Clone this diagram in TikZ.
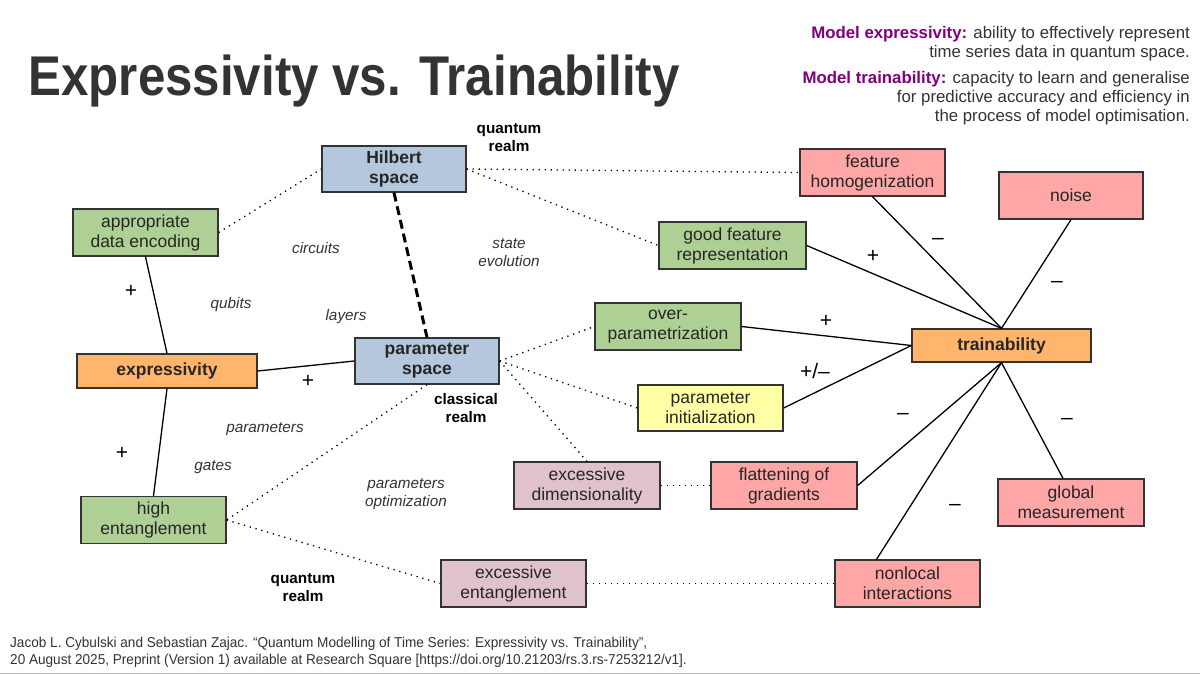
\documentclass[tikz,border=0pt]{standalone}
\usepackage{fontspec}
\setmainfont{Liberation Sans}
\newfontfamily\titlefont[FakeStretch=0.88]{Liberation Sans}
\newfontfamily\notefont[FakeStretch=0.95]{Liberation Sans}

\definecolor{spaceblue}{HTML}{B4C7DC}
\definecolor{goodgreen}{HTML}{AFD095}
\definecolor{mainorange}{HTML}{FFB66C}
\definecolor{badred}{HTML}{FFA6A6}
\definecolor{mixyellow}{HTML}{FFFFA6}
\definecolor{excmauve}{HTML}{E0C2CD}
\definecolor{inkgray}{HTML}{333333}
\definecolor{defpurple}{HTML}{800080}

\begin{document}
\begin{tikzpicture}[x=1pt,y=-1pt,
  box/.style={draw=inkgray,line width=1.3pt,minimum width=145pt,minimum height=47pt,
    inner sep=0pt,align=center,text=black!85,font=\fontsize{17.5}{20}\selectfont},
  keybox/.style={box,minimum width=180pt,minimum height=34pt,fill=mainorange,
    font=\fontsize{17.5}{20}\selectfont\bfseries},
  spacebox/.style={box,minimum width=144pt,minimum height=46pt,fill=spaceblue,
    font=\fontsize{17.5}{20}\selectfont\bfseries},
  link/.style={black,line width=1.3pt},
  weak/.style={black,line width=1.3pt,dash pattern=on 1.3pt off 4.7pt},
  hint/.style={text=inkgray,align=center,font=\fontsize{15.3}{18}\selectfont\itshape},
  realm/.style={text=black,align=center,font=\fontsize{15.3}{18}\selectfont\bfseries},
  sign/.style={text=black,font=\fontsize{21}{24}\selectfont}]
\useasboundingbox (0,0) rectangle (1200,675);
\fill[white] (0,0) rectangle (1200,675);
\draw[black!25,line width=1pt] (0,673) -- (1200,673);

% title and definitions
\node[anchor=base west,text=inkgray,font=\titlefont\fontsize{56}{60}\selectfont\bfseries]
  (title) at (25,95) {Expressivity vs. Trainability};
\node[anchor=north east,align=right,text=inkgray,inner sep=0pt,font=\fontsize{16.8}{19}\selectfont]
  (defexpr) at (1190,26)
  {\textcolor{defpurple}{\bfseries Model expressivity:} ability to effectively represent\\
   time series data in quantum space.};
\node[anchor=north east,align=right,text=inkgray,inner sep=0pt,font=\fontsize{16.8}{19}\selectfont]
  (deftrain) at (1190,71)
  {\textcolor{defpurple}{\bfseries Model trainability:} capacity to learn and generalise\\
   for predictive accuracy and efficiency in \\
   the process of model optimisation.};

% boxes
\node[spacebox] (hilbert) at (394,169) {Hilbert\\space};
\node[spacebox] (param) at (427,361) {parameter\\space};
\node[keybox] (expr) at (167,371) {expressivity};
\node[keybox,minimum width=179pt,minimum height=33pt] (train) at (1001.5,345.5) {trainability};
\node[box,fill=goodgreen] (encoding) at (145.5,232.5) {appropriate\\data encoding};
\node[box,fill=goodgreen] (highent) at (153.5,520) {high\\entanglement};
\node[box,fill=goodgreen,minimum width=147pt] (goodfeat) at (732.5,245.5) {good feature\\representation};
\node[box,fill=goodgreen,minimum width=146pt] (overparam) at (668,326.5) {over-\\parametrization};
\node[box,fill=mixyellow,minimum height=46pt] (paraminit) at (710.5,408) {parameter\\initialization};
\node[box,fill=badred] (homog) at (872.5,172.5) {feature\\homogenization};
\node[box,fill=badred,minimum width=144pt] (noise) at (1071,195.5) {noise};
\node[box,fill=badred,minimum width=146pt] (flatten) at (784,485.5) {flattening of\\gradients};
\node[box,fill=badred,minimum width=146pt] (global) at (1071,502.5) {global\\measurement};
\node[box,fill=badred] (nonlocal) at (907.5,583.5) {nonlocal\\interactions};
\node[box,fill=excmauve,minimum width=146pt] (excdim) at (587,485.5) {excessive\\dimensionality};
\node[box,fill=excmauve] (excent) at (513.5,583.5) {excessive\\entanglement};

% solid links
\draw[link] (encoding.south) -- (expr.north);
\draw[link] (expr.east) -- (param.west);
\draw[link] (expr.south) -- (highent.north);
\draw[black,line width=3pt,dash pattern=on 9pt off 5pt] (hilbert.south) -- (param.north);
\draw[link] (goodfeat.east) -- (train.north);
\draw[link] (homog.south) -- (train.north);
\draw[link] (noise.south) -- (train.north);
\draw[link] (overparam.east) -- (train.west);
\draw[link] (paraminit.east) -- (train.west);
\draw[link] (train.south) -- (flatten.east);
\draw[link] (train.south) -- ([xshift=-31pt]nonlocal.north);
\draw[link] (train.south) -- ([xshift=-8pt]global.north);

% dotted links
\draw[weak] (encoding.east) -- (hilbert.west);
\draw[weak] (hilbert.east) -- (homog.west);
\draw[weak] (hilbert.east) -- (goodfeat.west);
\draw[weak] (param.east) -- (overparam.west);
\draw[weak] (param.east) -- (paraminit.west);
\draw[weak] (param.east) -- (excdim.north);
\draw[weak] (param.south) -- (highent.east);
\draw[weak] (highent.east) -- (excent.west);
\draw[weak] (excdim.east) -- (flatten.west);
\draw[weak] (excent.east) -- (nonlocal.west);

% labels
\node[hint] (circuits) at (316,248) {circuits};
\node[hint] (qubits) at (231,305) {qubits};
\node[hint] (layers) at (346,317) {layers};
\node[hint] (evolution) at (509,253) {state\\evolution};
\node[hint] (params) at (265,429) {parameters};
\node[hint] (gates) at (213,467) {gates};
\node[hint] (optim) at (406,494) {parameters\\optimization};
\node[realm] (qtop) at (509,138) {quantum\\realm};
\node[realm] (classical) at (466,408) {classical\\realm};
\node[realm] (qbottom) at (303,588) {quantum\\realm};

% signs
\node[sign] (s1) at (131,291) {+};
\node[sign] (s2) at (308,381) {+};
\node[sign] (s3) at (122,453) {+};
\node[sign] (s4) at (873,256) {+};
\node[sign] (s5) at (938,241) {\textendash};
\node[sign] (s6) at (1057,284) {\textendash};
\node[sign] (s7) at (826,321) {+};
\node[sign] (s8) at (815,371) {+/\textendash};
\node[sign] (s9) at (903,416) {\textendash};
\node[sign] (s10) at (1067,421) {\textendash};
\node[sign] (s11) at (955,507) {\textendash};

% reference
\node[anchor=south west,align=left,inner sep=0pt,text=inkgray,font=\notefont\fontsize{14.3}{17}\selectfont]
  (cite) at (10,668)
  {Jacob L. Cybulski and Sebastian Zajac. \textquotedblleft Quantum Modelling of Time Series: Expressivity vs. Trainability\textquotedblright,\\
   20 August 2025, Preprint (Version 1) available at Research Square [https://doi.org/10.21203/rs.3.rs-7253212/v1].};
\end{tikzpicture}
\end{document}
